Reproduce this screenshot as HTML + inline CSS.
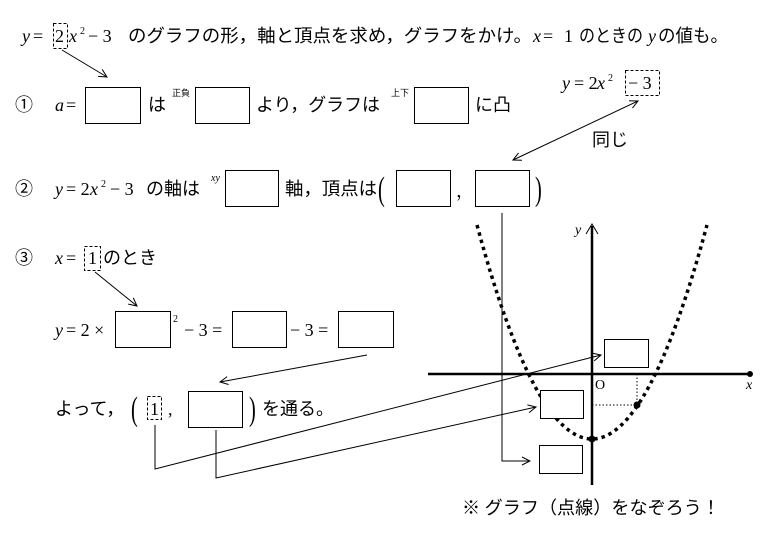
<!DOCTYPE html>
<html><head><meta charset="utf-8"><style>
html,body{margin:0;padding:0;background:#fff;}
svg{display:block}
text{font-family:"Liberation Serif","Noto Serif CJK JP",serif;font-size:18px;fill:#000}
.it{font-style:italic}
.sm{font-size:10px}
.jp{font-family:"Liberation Serif","Noto Sans CJK JP",sans-serif;font-size:18px}
</style></head><body>
<svg width="782" height="538" viewBox="0 0 782 538" xmlns="http://www.w3.org/2000/svg">
<defs>
<marker id="ah" markerWidth="10" markerHeight="10" refX="9" refY="5" orient="auto" markerUnits="userSpaceOnUse">
<path d="M1,1 L9,5 L1,9" fill="none" stroke="#000" stroke-width="1"/></marker>
<marker id="ahs" markerWidth="10" markerHeight="10" refX="1" refY="5" orient="auto" markerUnits="userSpaceOnUse">
<path d="M9,1 L1,5 L9,9" fill="none" stroke="#000" stroke-width="1"/></marker>
</defs>
<g fill="none" stroke="#000" stroke-width="1">
<rect x="53.5" y="23.5" width="14" height="25" stroke-dasharray="3 2"/>
<rect x="625.5" y="70.5" width="34" height="25" stroke-dasharray="3 2"/>
<rect x="84.5" y="246.5" width="16" height="24" stroke-dasharray="3 2"/>
<rect x="147.5" y="396.5" width="14" height="23" stroke-dasharray="3 2"/>
<rect x="85.5" y="87.5" width="55" height="36"/>
<rect x="195.5" y="87.5" width="54" height="36"/>
<rect x="414.5" y="87.5" width="54" height="36"/>
<rect x="225.5" y="170.5" width="53" height="36"/>
<rect x="396.5" y="170.5" width="54" height="36"/>
<rect x="475.5" y="170.5" width="54" height="36"/>
<rect x="115.5" y="311.5" width="55" height="36"/>
<rect x="232.5" y="311.5" width="54" height="36"/>
<rect x="338.5" y="311.5" width="55" height="36"/>
<rect x="188.5" y="391.5" width="54" height="36"/>
<line x1="62" y1="50" x2="107" y2="77" marker-end="url(#ah)"/>
<line x1="638" y1="101" x2="513" y2="160" marker-end="url(#ah)" marker-start="url(#ahs)"/>
<line x1="95" y1="272" x2="137" y2="306" marker-end="url(#ah)"/>
<line x1="367" y1="355" x2="220" y2="382" marker-end="url(#ah)"/>
<polyline points="502,213 502,461 530,461" marker-end="url(#ah)"/>
<polyline points="155,425 155,469 601,355" marker-end="url(#ah)"/>
<polyline points="216,430 216,478 536,407" marker-end="url(#ah)"/>
<line x1="428" y1="374" x2="750" y2="374" stroke-width="2.5"/>
<line x1="592" y1="485" x2="592" y2="226" stroke-width="2.5"/>
<path d="M586,234 L592,224 L598,234" stroke-width="1"/>
<path d="M477,225 Q592,653 707,225" stroke-width="3.5" stroke-dasharray="3.5 4"/>
<line x1="592" y1="405" x2="637" y2="405" stroke-dasharray="1.5 2"/>
<line x1="637" y1="374" x2="637" y2="405" stroke-dasharray="1.5 2"/>
<rect x="604.5" y="339.5" width="44" height="28" fill="#fff"/>
<rect x="540.5" y="390.5" width="43" height="28" fill="#fff"/>
<rect x="539.5" y="445.5" width="43" height="28" fill="#fff"/>
</g>
<circle cx="750" cy="374" r="3"/>
<circle cx="637" cy="405" r="3.5"/>
<circle cx="592" cy="439" r="3.5"/>
<text x="595" y="389" style="font-size:14px">O</text>
<text x="746" y="389" class="it" style="font-size:14px">x</text>
<text x="575" y="234" class="it" style="font-size:14px">y</text>

<text x="22" y="42" class="it">y</text><text x="33" y="42">=</text>
<text x="55" y="42">2</text>
<text x="69" y="42" class="it">x</text><text x="80" y="34" class="sm">2</text><text x="88" y="42">− 3</text>
<text x="128" y="42" class="jp" textLength="404" lengthAdjust="spacingAndGlyphs">のグラフの形，軸と頂点を求め，グラフをかけ。</text>
<text x="533" y="42" class="it">x</text><text x="543" y="42">=</text><text x="564" y="42">1</text>
<text x="579" y="42" class="jp" textLength="64" lengthAdjust="spacingAndGlyphs">のときの</text>
<text x="648" y="42" class="it">y</text>
<text x="658" y="42" class="jp" textLength="70" lengthAdjust="spacingAndGlyphs">の値も。</text>

<text x="15" y="111" class="jp">①</text>
<text x="55" y="111" class="it">a</text><text x="66" y="111">=</text>
<text x="148" y="111" class="jp">は</text>
<text x="172" y="96" class="jp" style="font-size:9px">正負</text>
<text x="256" y="111" class="jp" textLength="124" lengthAdjust="spacingAndGlyphs">より，グラフは</text>
<text x="391" y="96" class="jp" style="font-size:9px">上下</text>
<text x="475" y="111" class="jp">に凸</text>
<text x="562" y="89" class="it">y</text><text x="574" y="89">= 2</text><text x="597" y="89" class="it">x</text><text x="608" y="81" class="sm">2</text>
<text x="628" y="89">− 3</text>
<text x="592" y="146" class="jp">同じ</text>

<text x="15" y="195" class="jp">②</text>
<text x="55" y="195" class="it">y</text><text x="66" y="195">= 2</text><text x="90" y="195" class="it">x</text><text x="101" y="187" class="sm">2</text><text x="110" y="195">− 3</text>
<text x="146" y="195" class="jp">の軸は</text>
<text x="211" y="181" class="it sm">xy</text>
<text x="285" y="195" class="jp" textLength="92" lengthAdjust="spacingAndGlyphs">軸，頂点は</text>
<text x="378" y="200" style="font-size:34px" transform="translate(378,0) scale(0.6,1) translate(-378,0)">(</text>
<text x="456" y="197">，</text>
<text x="535" y="200" style="font-size:34px" transform="translate(535,0) scale(0.6,1) translate(-535,0)">)</text>

<text x="15" y="264" class="jp">③</text>
<text x="55" y="264" class="it">x</text><text x="66" y="264">=</text>
<text x="88" y="264">1</text>
<text x="103" y="264" class="jp">のとき</text>
<text x="55" y="336" class="it">y</text><text x="66" y="336">= 2 ×</text>
<text x="173" y="322" class="sm">2</text>
<text x="184" y="336">− 3 =</text>
<text x="290" y="336">− 3 =</text>
<text x="55" y="415" class="jp">よって，</text>
<text x="131" y="420" style="font-size:34px" transform="translate(131,0) scale(0.6,1) translate(-131,0)">(</text>
<text x="150" y="415">1</text>
<text x="168" y="415">,</text>
<text x="249" y="420" style="font-size:34px" transform="translate(249,0) scale(0.6,1) translate(-249,0)">)</text>
<text x="262" y="415" class="jp">を通る。</text>

<text x="462" y="514" class="jp" textLength="258" lengthAdjust="spacingAndGlyphs">※ グラフ（点線）をなぞろう！</text>
</svg>
</body></html>
